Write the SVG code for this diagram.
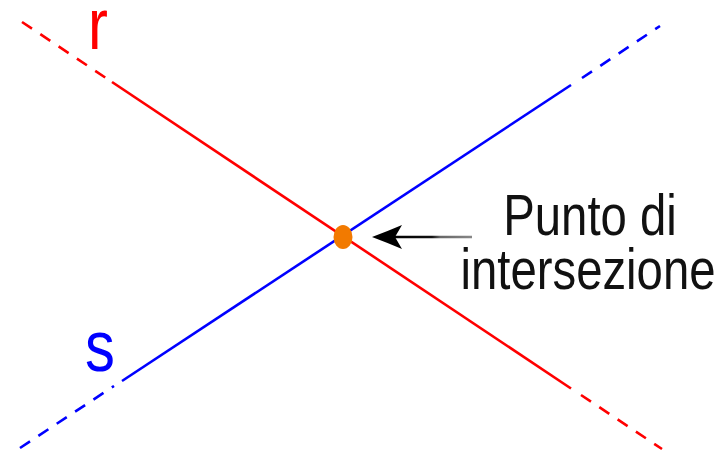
<svg xmlns="http://www.w3.org/2000/svg" width="726" height="454" viewBox="0 0 726 454">
<style>
.red{stroke:#ff0000;stroke-width:2.6;fill:none;stroke-linecap:butt}
.blue{stroke:#0000ff;stroke-width:2.6;fill:none;stroke-linecap:butt}
.dash{stroke-dasharray:12 10}
.lbl{font-family:"Liberation Sans",Arial,sans-serif}
.big{font-size:72px}
.txt{font-size:57px;fill:#111;text-anchor:middle}
</style>
<defs>
<linearGradient id="shaft" x1="392" y1="0" x2="472" y2="0" gradientUnits="userSpaceOnUse">
<stop offset="0" stop-color="#000"/>
<stop offset="0.5" stop-color="#111"/>
<stop offset="0.6" stop-color="#666"/>
<stop offset="1" stop-color="#888"/>
</linearGradient>
</defs>
<rect width="726" height="454" fill="#fff"/>
<g id="line-r">
<line class="red dash" x1="22" y1="22" x2="106" y2="78"/>
<line class="red" x1="112" y1="82" x2="571" y2="388.5"/>
<line class="red dash" x1="581" y1="395" x2="662" y2="449"/>
<text class="lbl big" fill="#ff0000" transform="translate(88,49) scale(0.83,1)">r</text>
</g>
<g id="line-s">
<line class="blue dash" x1="20" y1="448" x2="114" y2="386"/>
<line class="blue" x1="122" y1="381" x2="571" y2="85"/>
<line class="blue dash" x1="582" y1="78" x2="660" y2="26"/>
<text class="lbl big" fill="#0000ff" transform="translate(85,371) scale(0.83,1)">s</text>
</g>
<g id="connectors">
<line x1="392" y1="237" x2="472" y2="237" stroke="url(#shaft)" stroke-width="2.6"/>
<path d="M372,237 Q388,231 402,225 L395,237 L402,249 Q388,243 372,237 Z" fill="#000"/>
</g>
<g id="intersection">
<ellipse cx="343" cy="237" rx="9.5" ry="12" fill="#f27a00"/>
</g>
<g id="label">
<text class="lbl txt" transform="translate(590,235) scale(0.83,1)">Punto di</text>
<text class="lbl txt" transform="translate(588,289) scale(0.83,1)">intersezione</text>
</g>
</svg>
